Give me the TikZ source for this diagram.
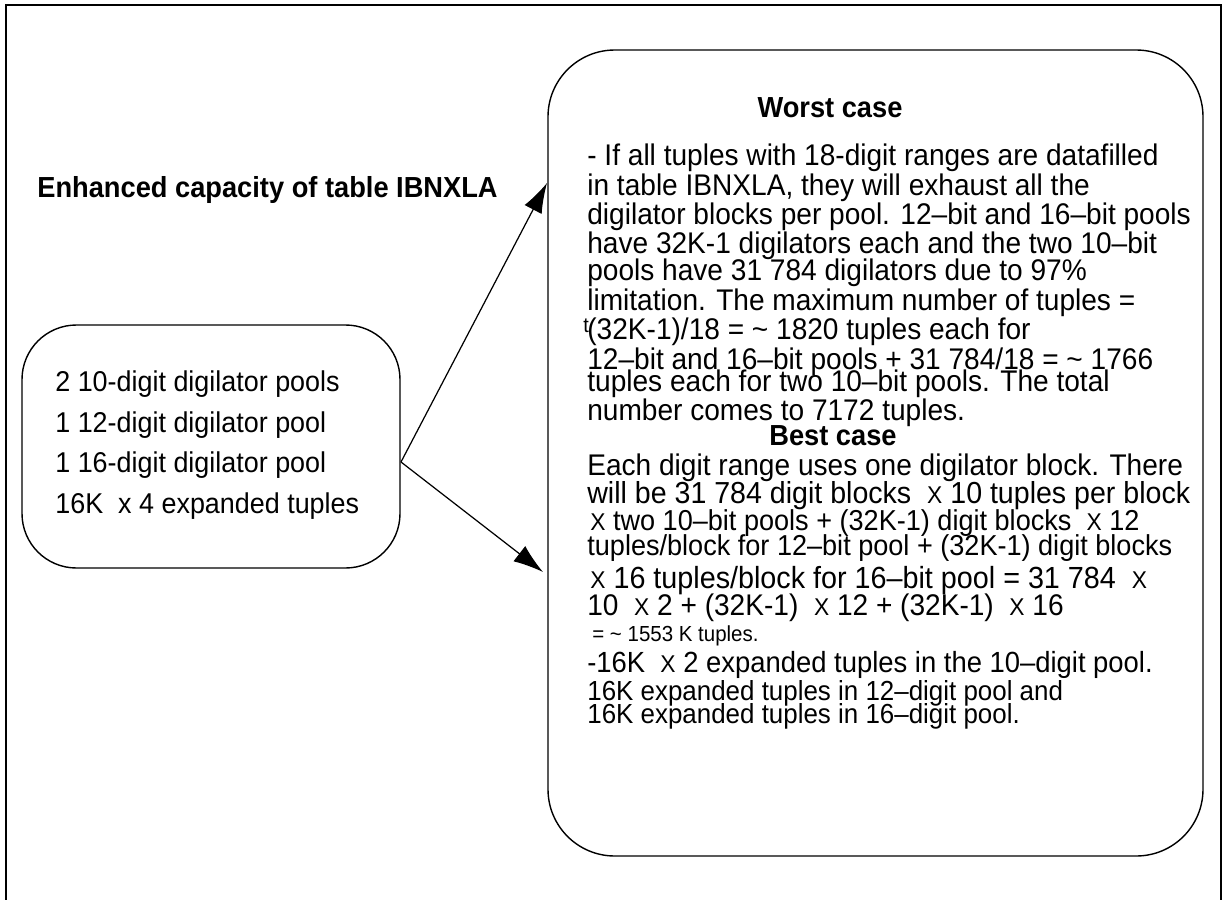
\documentclass[tikz,border=0pt]{standalone}
\usepackage{fontspec}
\setmainfont[FakeStretch = 0.94]{Liberation Sans}
\usetikzlibrary{arrows.meta}

\newcommand{\tm}{{\fontsize{13.8}{13.8}\selectfont X}}

\begin{document}
\begin{tikzpicture}[x = 0.02cm, y = -0.02cm,
	roundbox/.style = {draw, line width = 0.8pt, rounded corners = #1, inner sep = 0pt},
	line/.style = {anchor = base west, inner sep = 0pt, font = \fontsize{#1}{#1}\selectfont},
	line/.default = 17,
	head/.style = {anchor = base, inner sep = 0pt, font = \fontsize{16.5}{17}\selectfont\bfseries},
	arw/.style = {line width = 0.7pt, -{Latex[length = 17pt, width = 11pt]}}]

	\useasboundingbox (0, 0) rectangle (1225, 900);

	% frame
	\draw[line width = 1pt] (6, 900) -- (6, 5) -- (1221, 5) -- (1221, 900);

	% boxes
	\node[roundbox = 31pt, minimum width = 378*0.02cm, minimum height = 243*0.02cm] (pools) at (211, 446.5) {};
	\node[roundbox = 38pt, minimum width = 655*0.02cm, minimum height = 806*0.02cm] (cases) at (875.5, 453) {};

	% left side
	\node[head, anchor = base west] (title) at (37, 197) {Enhanced capacity of table IBNXLA};
	\node[line = 16.3] (p1) at (55, 391) {2 10-digit digilator pools};
	\node[line = 16.3] (p2) at (55, 432) {1 12-digit digilator pool};
	\node[line = 16.3] (p3) at (55, 472) {1 16-digit digilator pool};
	\node[line = 16.3] (p4) at (55, 513) {16K\ \ x 4 expanded tuples};

	% worst case
	\node[head] (worst) at (830, 117) {Worst case};
	\node[line] (w1) at (587, 165) {- If all tuples with 18-digit ranges are datafilled};
	\node[line] (w2) at (587, 195) {in table IBNXLA, they will exhaust all the};
	\node[line] (w3) at (587, 224) {digilator blocks per pool. 12–bit and 16–bit pools};
	\node[line] (w4) at (587, 253) {have 32K-1 digilators each and the two 10–bit};
	\node[line] (w5) at (587, 280) {pools have 31 784 digilators due to 97\%};
	\node[line] (w6) at (587, 310) {limitation. The maximum number of tuples =};
	\node[line = 12] (wt) at (583, 332) {t};
	\node[line] (w7) at (587, 339) {(32K-1)/18 = \textasciitilde{} 1820 tuples each for};
	\node[line] (w8) at (587, 369) {12–bit and 16–bit pools + 31 784/18 = \textasciitilde{} 1766};
	\node[line] (w9) at (587, 391) {tuples each for two 10–bit pools. The total};
	\node[line] (w10) at (587, 420) {number comes to 7172 tuples.};

	% best case
	\node[head] (best) at (833, 445) {Best case};
	\node[line] (b1) at (587, 475) {Each digit range uses one digilator block. There};
	\node[line = 17.3] (b2) at (587, 503) {will be 31 784 digit blocks\ \ \tm{} 10 tuples per block};
	\node[line = 16.4] (b3) at (590, 530) {\tm{} two 10–bit pools + (32K-1) digit blocks\ \ \tm{} 12};
	\node[line = 16.4] (b4) at (587, 555) {tuples/block for 12–bit pool + (32K-1) digit blocks};
	\node[line = 17.4] (b5) at (590, 588) {\tm{} 16 tuples/block for 16–bit pool = 31 784\ \ \tm};
	\node[line] (b6) at (587, 615) {10\ \ \tm{} 2 + (32K-1)\ \ \tm{} 12 + (32K-1)\ \ \tm{} 16};
	\node[line = 12.4] (b7) at (592, 641) {= \textasciitilde{} 1553 K tuples.};
	\node[line = 16.6] (b8) at (587, 672) {-16K\ \ \tm{} 2 expanded tuples in the 10–digit pool.};
	\node[line = 15.7] (b9) at (587, 700) {16K expanded tuples in 12–digit pool and};
	\node[line = 15.7] (b10) at (587, 723) {16K expanded tuples in 16–digit pool.};

	% arrows
	\coordinate (fork) at (401, 462);
	\coordinate (wtip) at (547, 183);
	\coordinate (btip) at (543, 572);
	\draw[arw] (fork) -- (wtip);
	\draw[arw] (fork) -- (btip);

\end{tikzpicture}
\end{document}
